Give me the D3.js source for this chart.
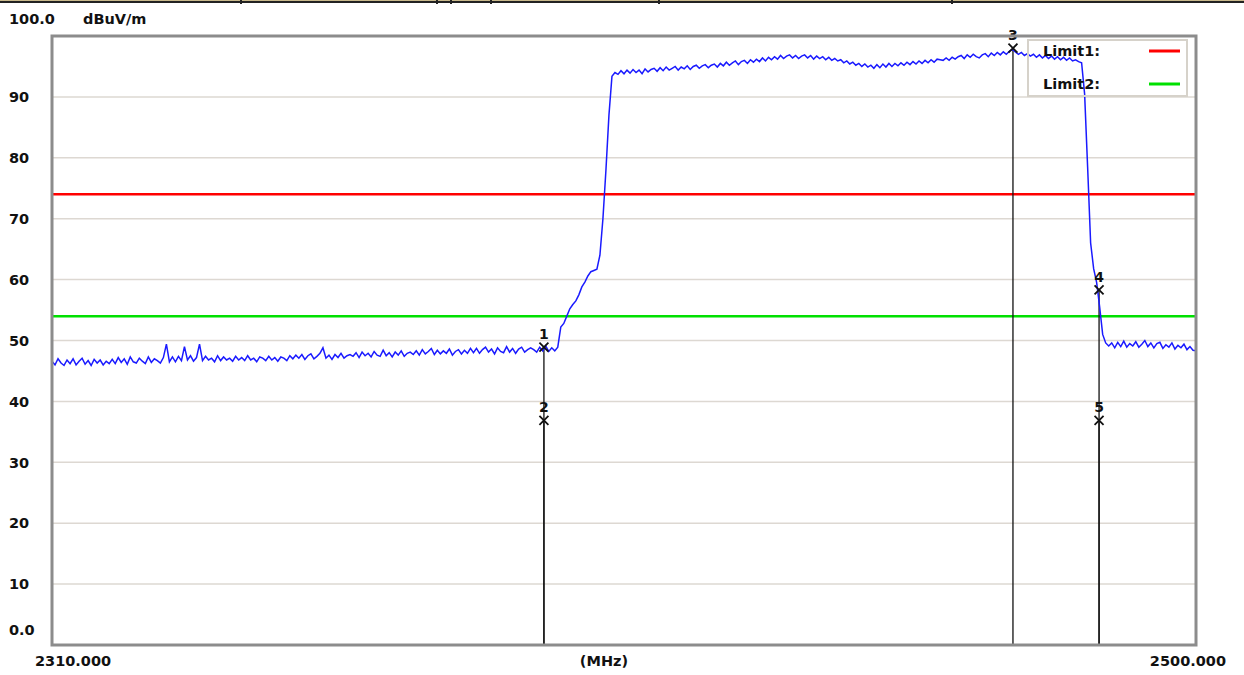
<!DOCTYPE html>
<html>
<head>
<meta charset="utf-8">
<script src="https://cdn.jsdelivr.net/npm/d3@7"></script>
<style>
  body { margin: 0; background: #fff; }
  text { font-family: "DejaVu Sans", Arial, sans-serif; font-weight: bold; fill: #111; }
</style>
</head>
<body>
<div id="chart"></div>
<script>
// frequency axis, MHz
var fStart = 2310, fStop = 2500, fStep = 0.5;
// y axis labels (dBuV/m)
var yTicks = [0, 10, 20, 30, 40, 50, 60, 70, 80, 90, 100];
var yTickLabels = ["0.0", "10", "20", "30", "40", "50", "60", "70", "80", "90", "100.0"];
var gridValues = [10, 20, 30, 40, 50, 60, 70, 80, 90];

// trace levels, one every 0.5 MHz from 2310 to 2500
var trace = [
  46.6,46.0,47.0,46.3,45.9,46.8,46.2,47.0,46.0,46.6,47.1,46.1,46.7,45.9,46.9,46.3,46.8,46.0,46.6,46.2,
  46.9,46.2,47.2,46.4,47.0,46.1,47.3,46.5,46.3,47.1,46.6,46.2,47.3,46.4,47.0,46.7,46.3,47.2,49.4,46.5,
  47.3,46.5,47.4,46.7,49.0,46.8,47.5,46.6,47.2,49.4,46.7,47.4,46.8,47.1,46.5,47.5,46.7,47.3,46.8,47.1,
  46.6,47.4,46.8,47.2,46.7,47.5,46.8,47.1,46.5,47.3,47.1,46.7,47.4,46.8,47.2,46.6,47.3,47.1,46.7,47.5,
  47.0,47.6,47.1,47.7,46.9,47.5,47.8,47.0,47.4,47.9,48.8,47.1,47.6,46.9,47.7,47.2,47.9,47.1,47.5,47.7,
  47.4,48.0,47.2,48.1,47.5,47.9,47.3,48.2,47.6,47.4,48.4,47.5,48.0,47.3,48.1,47.6,48.3,47.4,47.9,48.1,
  47.7,48.3,47.6,48.5,47.8,48.2,48.7,47.7,48.4,47.8,48.3,47.9,48.6,47.6,48.2,48.5,47.8,48.4,47.9,48.7,
  48.0,48.7,47.9,48.5,48.9,48.1,48.6,47.8,48.8,48.2,48.0,49.0,48.1,48.7,47.9,48.6,48.9,48.1,48.5,48.8,
  48.5,48.1,48.9,48.3,49.1,48.2,48.8,48.3,48.9,52.2,52.8,54.0,55.2,55.9,56.5,57.5,58.8,59.6,60.6,61.3,
  61.5,61.7,64.0,70.0,78.0,87.0,93.4,94.0,93.7,94.3,93.8,94.4,93.9,94.5,94.0,94.4,93.8,94.6,94.1,94.5,
  94.7,94.2,94.8,94.3,94.9,94.4,94.7,95.0,94.4,94.9,94.6,95.1,94.5,95.0,95.2,94.7,95.1,95.3,94.8,95.2,
  95.4,94.9,95.5,95.1,95.7,95.2,95.6,95.9,95.3,95.8,96.0,95.5,96.1,95.7,96.2,95.8,96.4,95.9,96.5,96.1,
  96.6,96.2,96.8,96.3,96.7,96.9,96.4,96.8,96.3,96.7,96.9,96.4,96.8,96.2,96.7,96.3,96.6,96.1,96.5,96.0,
  96.3,95.9,96.1,95.6,95.9,95.4,95.7,95.2,95.5,95.0,95.4,94.9,95.2,94.7,95.3,94.8,95.4,94.9,95.5,95.0,
  95.5,95.1,95.6,95.2,95.7,95.3,95.8,95.4,95.9,95.5,96.0,95.6,96.1,95.7,96.2,96.1,96.0,96.4,96.0,96.5,
  96.2,96.6,96.8,96.3,96.9,96.5,97.0,96.6,96.4,96.9,97.1,96.6,97.2,96.8,97.3,96.9,97.4,97.0,97.5,97.8,
  97.4,97.0,97.3,96.8,97.1,96.7,97.0,96.5,96.9,96.4,96.8,96.3,96.7,96.2,96.6,96.1,96.5,96.0,96.4,95.9,
  96.1,95.8,95.6,90.5,78.5,66.0,61.8,59.5,55.5,51.0,49.6,49.1,49.6,48.8,49.7,49.0,49.9,48.9,49.5,49.1,
  49.8,48.9,49.4,50.0,49.0,49.6,48.8,49.5,49.7,48.7,49.3,48.9,49.6,48.6,49.2,48.8,49.4,48.5,49.0,48.4,
  48.3
];

// limit lines
var limitNames = ["Limit1:", "Limit2:"];
var limitValues = [74, 54];
var limitColors = ["#ff0000", "#00e000"];

// markers
var markerIds = [1, 2, 3, 4, 5];
var markerFreqs = [2391.7, 2391.7, 2469.6, 2483.9, 2483.9];
var markerLevels = [48.9, 36.9, 98.0, 58.3, 36.9];

var W = 1244, H = 675;
var plotL = 52, plotR = 1196, plotT = 36, plotB = 645;

var svg = d3.select("#chart").append("svg")
    .attr("width", W)
    .attr("height", H);

var x = d3.scaleLinear().domain([fStart, fStop]).range([plotL, plotR]);
var y = d3.scaleLinear().domain([0, 100]).range([plotB, plotT]);

// strip of the report table above the chart
svg.append("rect").attr("x", 0).attr("y", 0).attr("width", W).attr("height", 1).attr("fill", "#c9b98c");
svg.append("rect").attr("x", 0).attr("y", 1).attr("width", W).attr("height", 2).attr("fill", "#222");
[240, 436, 450, 490, 658, 951].forEach(function (px) {
    svg.append("rect").attr("x", px).attr("y", 0).attr("width", 2).attr("height", 4).attr("fill", "#222");
});

// horizontal grid
svg.append("g")
    .attr("class", "grid")
    .selectAll("line")
    .data(gridValues)
    .enter().append("line")
    .attr("x1", plotL).attr("x2", plotR)
    .attr("y1", function (d) { return y(d); })
    .attr("y2", function (d) { return y(d); })
    .attr("stroke", "#ddd8d2")
    .attr("stroke-width", 1.5);

// y labels
svg.append("g")
    .selectAll("text")
    .data(yTicks)
    .enter().append("text")
    .attr("x", 9)
    .attr("y", function (d) {
        if (d === 0) return y(d) - 15;
        if (d === 100) return y(d) - 17;
        return y(d);
    })
    .attr("dy", "0.36em")
    .attr("font-size", "14.5px")
    .text(function (d, i) { return yTickLabels[i]; });

svg.append("text")
    .attr("x", 83).attr("y", y(100) - 17)
    .attr("dy", "0.36em")
    .attr("font-size", "14.5px")
    .text("dBuV/m");

// x labels
svg.append("text").attr("x", 35).attr("y", 661).attr("dy", "0.36em")
    .attr("font-size", "14.5px").text(d3.format(".3f")(fStart));
svg.append("text").attr("x", 604).attr("y", 661).attr("dy", "0.36em")
    .attr("text-anchor", "middle").attr("font-size", "14.5px").text("(MHz)");
svg.append("text").attr("x", 1226).attr("y", 661).attr("dy", "0.36em")
    .attr("text-anchor", "end").attr("font-size", "14.5px").text(d3.format(".3f")(fStop));

// limit lines
svg.append("g")
    .selectAll("line")
    .data(limitValues)
    .enter().append("line")
    .attr("x1", plotL).attr("x2", plotR)
    .attr("y1", function (d) { return y(d); })
    .attr("y2", function (d) { return y(d); })
    .attr("stroke", function (d, i) { return limitColors[i]; })
    .attr("stroke-width", 2.5);

// marker vertical lines
svg.append("g")
    .selectAll("line")
    .data(markerIds)
    .enter().append("line")
    .attr("x1", function (d, i) { return x(markerFreqs[i]); })
    .attr("x2", function (d, i) { return x(markerFreqs[i]); })
    .attr("y1", function (d, i) { return y(markerLevels[i]); })
    .attr("y2", plotB)
    .attr("stroke", "#111")
    .attr("stroke-width", 1.3);

// trace
var line = d3.line()
    .x(function (d, i) { return x(fStart + i * fStep); })
    .y(function (d) { return y(d); });

svg.append("path")
    .datum(trace)
    .attr("d", line)
    .attr("fill", "none")
    .attr("stroke", "#1a1aff")
    .attr("stroke-width", 1.5);

// markers: cross and number
var mk = svg.append("g")
    .selectAll("g")
    .data(markerIds)
    .enter().append("g")
    .attr("transform", function (d, i) {
        return "translate(" + x(markerFreqs[i]) + "," + y(markerLevels[i]) + ")";
    });

mk.append("path")
    .attr("d", "M-4.5,-4.5L4.5,4.5M-4.5,4.5L4.5,-4.5")
    .attr("stroke", "#111")
    .attr("stroke-width", 1.8);

mk.append("text")
    .attr("x", 0).attr("y", -8)
    .attr("text-anchor", "middle")
    .attr("font-size", "14px")
    .text(function (d) { return d; });

// legend
var lg = svg.append("g").attr("transform", "translate(1028,40)");
lg.append("rect")
    .attr("width", 159).attr("height", 56)
    .attr("fill", "none")
    .attr("stroke", "#d6d2ca")
    .attr("stroke-width", 2);
limitNames.forEach(function (name, i) {
    lg.append("text")
        .attr("x", 15).attr("y", 11 + i * 33)
        .attr("dy", "0.36em")
        .attr("font-size", "14.5px")
        .text(name);
    lg.append("line")
        .attr("x1", 121).attr("x2", 152)
        .attr("y1", 11 + i * 33).attr("y2", 11 + i * 33)
        .attr("stroke", limitColors[i])
        .attr("stroke-width", 3);
});

// plot frame
svg.append("rect")
    .attr("x", plotL).attr("y", plotT)
    .attr("width", plotR - plotL).attr("height", plotB - plotT)
    .attr("fill", "none")
    .attr("stroke", "#8c8c8c")
    .attr("stroke-width", 3);
</script>
</body>
</html>
